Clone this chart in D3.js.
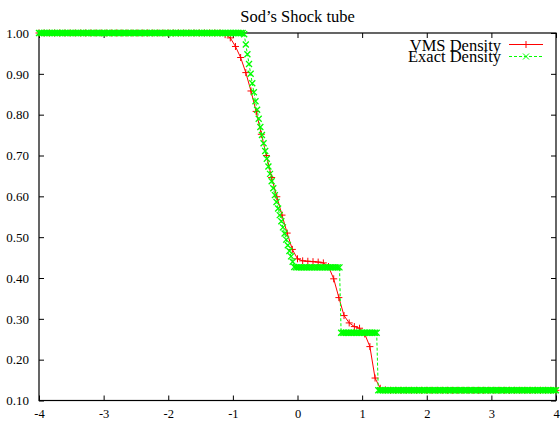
<!DOCTYPE html>
<html>
<head>
<meta charset="utf-8">
<script src="https://cdn.jsdelivr.net/npm/d3@7"></script>
<style>
  html, body { margin: 0; padding: 0; background: #fff; }
  svg { display: block; }
  svg text { font-family: "Liberation Serif", "Times New Roman", serif; }
</style>
</head>
<body>
<svg id="chart" width="560" height="424"></svg>
<script>
// Sod's shock tube: density profile, numerical (VMS) vs exact solution.

const chartTitle = "Sod\u2019s Shock tube";
const seriesNames = ["VMS Density", "Exact Density"];

const xTicks = [-4, -3, -2, -1, 0, 1, 2, 3, 4];
const yTicks = [0.10, 0.20, 0.30, 0.40, 0.50, 0.60, 0.70, 0.80, 0.90, 1.00];

// VMS solution: nodes from -4 to 4, spacing 0.08
const vmsStart = -4, vmsStep = 0.08;
const vmsDensity = [
  1, 1, 1, 1, 1, 1, 1, 1, 1, 1, 1, 1, 1, 1, 1, 1, 1, 1,
  1, 1, 1, 1, 1, 1, 1, 1, 1, 1, 1, 1, 1, 1, 1, 1, 1, 1,
  0.996, 0.988, 0.967, 0.940, 0.903, 0.858, 0.808, 0.752,
  0.700, 0.646, 0.599, 0.554, 0.510, 0.470, 0.447, 0.442,
  0.441, 0.440, 0.439, 0.437, 0.428, 0.398, 0.352, 0.308,
  0.290, 0.281, 0.277, 0.263, 0.232, 0.155, 0.130, 0.126,
  0.125, 0.125, 0.125, 0.125, 0.125, 0.125, 0.125, 0.125, 0.125, 0.125, 0.125,
  0.125, 0.125, 0.125, 0.125, 0.125, 0.125, 0.125, 0.125, 0.125, 0.125, 0.125,
  0.125, 0.125, 0.125, 0.125, 0.125, 0.125, 0.125, 0.125, 0.125, 0.125, 0.125
];

// Exact solution: sample points from -4 to 4, spacing 0.025
const exactStart = -4, exactStep = 0.025;
const exactDensity = [
  1, 1, 1, 1, 1, 1, 1, 1, 1, 1, 1, 1, 1, 1, 1, 1, 1, 1, 1, 1,
  1, 1, 1, 1, 1, 1, 1, 1, 1, 1, 1, 1, 1, 1, 1, 1, 1, 1, 1, 1,
  1, 1, 1, 1, 1, 1, 1, 1, 1, 1, 1, 1, 1, 1, 1, 1, 1, 1, 1, 1,
  1, 1, 1, 1, 1, 1, 1, 1, 1, 1, 1, 1, 1, 1, 1, 1, 1, 1, 1, 1,
  1, 1, 1, 1, 1, 1, 1, 1, 1, 1, 1, 1, 1, 1, 1, 1, 1, 1, 1, 1,
  1, 1, 1, 1, 1, 1, 1, 1, 1, 1, 1, 1, 1, 1, 1, 1, 1, 1, 1, 1,
  1, 1, 1, 1, 1, 1, 1,
  0.997, 0.972, 0.948, 0.924, 0.900, 0.877, 0.855, 0.833,
  0.812, 0.790, 0.770, 0.750, 0.730, 0.711, 0.692, 0.673,
  0.655, 0.637, 0.620, 0.603, 0.586, 0.570, 0.554, 0.539,
  0.524, 0.509, 0.494, 0.480, 0.466, 0.453, 0.440, 0.427,
  0.426, 0.426, 0.426, 0.426, 0.426, 0.426, 0.426, 0.426, 0.426, 0.426,
  0.426, 0.426, 0.426, 0.426, 0.426, 0.426, 0.426, 0.426, 0.426, 0.426,
  0.426, 0.426, 0.426, 0.426, 0.426, 0.426, 0.426, 0.426,
  0.266, 0.266, 0.266, 0.266, 0.266, 0.266, 0.266, 0.266, 0.266, 0.266,
  0.266, 0.266, 0.266, 0.266, 0.266, 0.266, 0.266, 0.266, 0.266, 0.266,
  0.266, 0.266, 0.266,
  0.125, 0.125, 0.125, 0.125, 0.125, 0.125, 0.125, 0.125, 0.125, 0.125,
  0.125, 0.125, 0.125, 0.125, 0.125, 0.125, 0.125, 0.125, 0.125, 0.125,
  0.125, 0.125, 0.125, 0.125, 0.125, 0.125, 0.125, 0.125, 0.125, 0.125,
  0.125, 0.125, 0.125, 0.125, 0.125, 0.125, 0.125, 0.125, 0.125, 0.125,
  0.125, 0.125, 0.125, 0.125, 0.125, 0.125, 0.125, 0.125, 0.125, 0.125,
  0.125, 0.125, 0.125, 0.125, 0.125, 0.125, 0.125, 0.125, 0.125, 0.125,
  0.125, 0.125, 0.125, 0.125, 0.125, 0.125, 0.125, 0.125, 0.125, 0.125,
  0.125, 0.125, 0.125, 0.125, 0.125, 0.125, 0.125, 0.125, 0.125, 0.125,
  0.125, 0.125, 0.125, 0.125, 0.125, 0.125, 0.125, 0.125, 0.125, 0.125,
  0.125, 0.125, 0.125, 0.125, 0.125, 0.125, 0.125, 0.125, 0.125, 0.125,
  0.125, 0.125, 0.125, 0.125, 0.125, 0.125, 0.125, 0.125, 0.125, 0.125,
  0.125
];

const vmsColor = "#ff0000";
const exactColor = "#00ff00";

const margin = { left: 39, right: 4, top: 33, bottom: 23.5 };
const W = 560, H = 424;

const svg = d3.select("#chart");

const x = d3.scaleLinear().domain([-4, 4]).range([margin.left, W - margin.right]);
const y = d3.scaleLinear().domain([0.1, 1.0]).range([H - margin.bottom, margin.top]);

const toPoints = (start, step, vals) => vals.map((v, i) => ({ x: start + i * step, y: v }));
const vmsPts = toPoints(vmsStart, vmsStep, vmsDensity);
const exactPts = toPoints(exactStart, exactStep, exactDensity);

// Axes: ticks on all four sides, pointing inward
const tickLen = 5;
const axisG = svg.append("g");

const styleLabels = (g, size) => g.selectAll("text")
  .style("font-family", "'Liberation Serif', 'Times New Roman', serif")
  .style("font-size", size + "px")
  .attr("fill", "#000");

axisG.append("g")
  .attr("transform", `translate(0,${y(0.1)})`)
  .call(d3.axisBottom(x).tickValues(xTicks).tickSize(-tickLen).tickPadding(tickLen + 4)
    .tickFormat(d => String(d)))
  .call(g => g.select(".domain").remove())
  .call(g => styleLabels(g, 12.5));

axisG.append("g")
  .attr("transform", `translate(0,${y(1.0)})`)
  .call(d3.axisTop(x).tickValues(xTicks).tickSize(-tickLen).tickFormat(""))
  .call(g => g.select(".domain").remove());

axisG.append("g")
  .attr("transform", `translate(${x(-4)},0)`)
  .call(d3.axisLeft(y).tickValues(yTicks).tickSize(-tickLen).tickPadding(tickLen + 5)
    .tickFormat(d3.format(".2f")))
  .call(g => g.select(".domain").remove())
  .call(g => styleLabels(g, 13));

axisG.append("g")
  .attr("transform", `translate(${x(4)},0)`)
  .call(d3.axisRight(y).tickValues(yTicks).tickSize(-tickLen).tickFormat(""))
  .call(g => g.select(".domain").remove());

axisG.selectAll(".tick line").attr("stroke", "#000").attr("stroke-width", 1);

// Plot border
axisG.append("rect")
  .attr("x", x(-4)).attr("y", y(1.0))
  .attr("width", x(4) - x(-4)).attr("height", y(0.1) - y(1.0))
  .attr("fill", "none").attr("stroke", "#000").attr("stroke-width", 1.2);

// Title
svg.append("text")
  .attr("x", (x(-4) + x(4)) / 2).attr("y", 21.5)
  .attr("text-anchor", "middle").attr("font-size", 16.5)
  .text(chartTitle);

const line = d3.line().x(d => x(d.x)).y(d => y(d.y));
const plusPath = "M-3.5,0H3.5M0,-3.5V3.5";
const crossPath = "M-3,-3L3,3M-3,3L3,-3";

// VMS series
svg.append("path").datum(vmsPts)
  .attr("d", line).attr("fill", "none")
  .attr("stroke", vmsColor).attr("stroke-width", 1);
svg.append("g").selectAll("path").data(vmsPts).join("path")
  .attr("transform", d => `translate(${x(d.x)},${y(d.y)})`)
  .attr("d", plusPath).attr("stroke", vmsColor).attr("stroke-width", 1).attr("fill", "none");

// Exact series
svg.append("path").datum(exactPts)
  .attr("d", line).attr("fill", "none")
  .attr("stroke", exactColor).attr("stroke-width", 1).attr("stroke-dasharray", "3,2");
svg.append("g").selectAll("path").data(exactPts).join("path")
  .attr("transform", d => `translate(${x(d.x)},${y(d.y)})`)
  .attr("d", crossPath).attr("stroke", exactColor).attr("stroke-width", 1.3).attr("fill", "none");

// Legend
const legend = svg.append("g");
const legendRows = [
  { name: seriesNames[0], color: vmsColor, dash: null, mark: plusPath, yText: 50.5, yLine: 44.5 },
  { name: seriesNames[1], color: exactColor, dash: "3,2", mark: crossPath, yText: 62, yLine: 56.5 }
];
legendRows.forEach(r => {
  legend.append("text")
    .attr("x", 501).attr("y", r.yText)
    .attr("text-anchor", "end").attr("font-size", 16.5)
    .text(r.name);
  legend.append("line")
    .attr("x1", 509).attr("x2", 543).attr("y1", r.yLine).attr("y2", r.yLine)
    .attr("stroke", r.color).attr("stroke-width", 1)
    .attr("stroke-dasharray", r.dash);
  legend.append("path")
    .attr("transform", `translate(526,${r.yLine})`)
    .attr("d", r.mark).attr("stroke", r.color).attr("stroke-width", 1).attr("fill", "none");
});
</script>
</body>
</html>
